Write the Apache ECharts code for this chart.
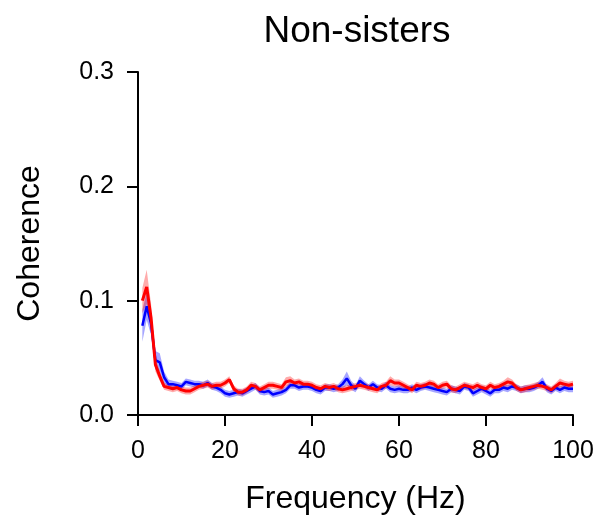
<!DOCTYPE html>
<html>
<head>
<meta charset="utf-8">
<script src="https://cdn.jsdelivr.net/npm/echarts@6/dist/echarts.min.js"></script>
<style>html,body{margin:0;padding:0;background:#fff;}#c{width:605px;height:525px;}</style>
</head>
<body>
<div id="c"></div>
<script>
// Frequency grid (Hz)
var freqs = [];
for (var i = 1; i <= 100; i++) freqs.push(i);

// Red series (mean coherence)
var redMean = [0.100,0.112,0.085,0.044,0.034,0.025,0.024,0.023,0.024,0.022,
  0.021,0.021,0.023,0.025,0.026,0.027,0.025,0.026,0.026,0.028,
  0.031,0.023,0.020,0.020,0.022,0.026,0.025,0.022,0.024,0.026,
  0.026,0.025,0.024,0.029,0.030,0.028,0.029,0.027,0.027,0.026,
  0.024,0.023,0.025,0.024,0.025,0.023,0.022,0.023,0.024,0.025,
  0.026,0.025,0.024,0.023,0.022,0.025,0.026,0.030,0.028,0.028,
  0.026,0.024,0.022,0.026,0.025,0.026,0.028,0.027,0.024,0.026,
  0.027,0.023,0.022,0.024,0.026,0.025,0.024,0.026,0.024,0.023,
  0.026,0.024,0.025,0.027,0.029,0.028,0.024,0.022,0.023,0.024,
  0.025,0.026,0.025,0.024,0.022,0.025,0.028,0.027,0.026,0.027];
var redErr = [0.011,0.015,0.012,0.006,0.004,0.003,0.003,0.003,0.003,0.003,
  0.003,0.003,0.003,0.003,0.003,0.003,0.003,0.003,0.003,0.003,
  0.003,0.003,0.003,0.003,0.003,0.003,0.003,0.003,0.003,0.003,
  0.003,0.003,0.003,0.004,0.004,0.003,0.003,0.003,0.003,0.003,
  0.003,0.003,0.003,0.003,0.003,0.003,0.003,0.003,0.003,0.003,
  0.003,0.003,0.003,0.003,0.003,0.003,0.003,0.004,0.003,0.003,
  0.003,0.003,0.003,0.003,0.003,0.003,0.003,0.003,0.003,0.003,
  0.003,0.003,0.003,0.003,0.003,0.003,0.003,0.003,0.003,0.003,
  0.003,0.003,0.003,0.003,0.004,0.003,0.003,0.003,0.003,0.003,
  0.003,0.003,0.003,0.003,0.003,0.003,0.004,0.003,0.003,0.003];

// Blue series (mean coherence)
var blueMean = [0.078,0.095,0.080,0.048,0.046,0.033,0.027,0.027,0.026,0.025,
  0.029,0.028,0.027,0.027,0.026,0.028,0.025,0.024,0.022,0.019,
  0.018,0.019,0.020,0.019,0.021,0.023,0.025,0.021,0.020,0.021,
  0.018,0.019,0.020,0.022,0.026,0.026,0.024,0.025,0.025,0.024,
  0.022,0.021,0.024,0.024,0.023,0.024,0.027,0.032,0.026,0.023,
  0.030,0.027,0.024,0.027,0.024,0.023,0.026,0.023,0.022,0.023,
  0.022,0.022,0.024,0.022,0.024,0.025,0.024,0.023,0.022,0.021,
  0.020,0.023,0.022,0.021,0.025,0.024,0.019,0.021,0.023,0.021,
  0.019,0.022,0.022,0.024,0.023,0.025,0.024,0.022,0.023,0.023,
  0.024,0.026,0.029,0.023,0.021,0.024,0.022,0.024,0.023,0.023];
var blueErr = [0.014,0.012,0.010,0.008,0.008,0.005,0.004,0.003,0.003,0.003,
  0.003,0.003,0.003,0.003,0.003,0.003,0.003,0.003,0.003,0.003,
  0.003,0.003,0.003,0.003,0.003,0.003,0.003,0.003,0.003,0.003,
  0.003,0.003,0.003,0.003,0.003,0.003,0.003,0.003,0.003,0.003,
  0.003,0.003,0.003,0.003,0.003,0.003,0.004,0.006,0.004,0.003,
  0.004,0.003,0.003,0.003,0.003,0.003,0.003,0.003,0.003,0.003,
  0.003,0.003,0.003,0.003,0.003,0.003,0.003,0.003,0.003,0.003,
  0.003,0.003,0.003,0.003,0.003,0.003,0.003,0.003,0.003,0.003,
  0.003,0.003,0.003,0.003,0.003,0.003,0.003,0.003,0.003,0.003,
  0.003,0.003,0.004,0.003,0.003,0.003,0.003,0.003,0.003,0.003];

var xTicks = [0, 20, 40, 60, 80, 100];
var yTicks = [0.0, 0.1, 0.2, 0.3];

function pairs(vals) { return freqs.map(function (f, i) { return [f, vals[i]]; }); }
function bandData(m, e) { return freqs.map(function (f, i) { return [f, m[i] - e[i], m[i] + e[i]]; }); }

var FONT = 'Liberation Sans, Arial, sans-serif';
var chart = echarts.init(document.getElementById('c'), null, { renderer: 'canvas' });

function band(name, data, color) {
  return {
    name: name, type: 'custom', data: data, silent: true, animation: false, z: 1,
    encode: { x: 0, y: [1, 2] },
    renderItem: function (params, api) {
      if (params.dataIndex !== 0) return null;
      var up = [], lo = [];
      for (var k = 0; k < data.length; k++) {
        up.push(api.coord([data[k][0], data[k][2]]));
        lo.unshift(api.coord([data[k][0], data[k][1]]));
      }
      return { type: 'polygon', shape: { points: up.concat(lo) }, style: { fill: color } };
    }
  };
}

chart.setOption({
  animation: false,
  title: {
    text: 'Non-sisters', left: 352, top: 8, textAlign: 'center',
    textStyle: { fontFamily: FONT, fontSize: 37, fontWeight: 'normal', color: '#000' }
  },
  grid: { left: 138, right: 32, top: 72, bottom: 110, containLabel: false },
  xAxis: {
    type: 'value', min: 0, max: 100, interval: 20,
    name: 'Frequency (Hz)', nameLocation: 'middle', nameGap: 68,
    nameTextStyle: { fontFamily: FONT, fontSize: 32, color: '#000' },
    axisLine: { lineStyle: { color: '#000', width: 2 } },
    axisTick: { show: true, length: 11, lineStyle: { color: '#000', width: 2 } },
    axisLabel: { fontFamily: FONT, fontSize: 25, color: '#000', margin: 24,
      formatter: function (v) { return xTicks.indexOf(v) >= 0 ? String(v) : ''; } },
    splitLine: { show: false }
  },
  yAxis: {
    type: 'value', min: 0, max: 0.3, interval: 0.1,
    name: 'Coherence', nameLocation: 'middle', nameGap: 92,
    nameTextStyle: { fontFamily: FONT, fontSize: 32, color: '#000' },
    axisLine: { show: true, lineStyle: { color: '#000', width: 2 } },
    axisTick: { show: true, length: 11, lineStyle: { color: '#000', width: 2 } },
    axisLabel: { fontFamily: FONT, fontSize: 25, color: '#000', margin: 24,
      formatter: function (v) {
        for (var k = 0; k < yTicks.length; k++) if (Math.abs(yTicks[k] - v) < 1e-9) return yTicks[k].toFixed(1);
        return '';
      } },
    splitLine: { show: false }
  },
  series: [
    band('blueBand', bandData(blueMean, blueErr), 'rgba(0,0,255,0.35)'),
    band('redBand', bandData(redMean, redErr), 'rgba(255,0,0,0.33)'),
    { name: 'Blue', type: 'line', data: pairs(blueMean), symbol: 'none', animation: false,
      lineStyle: { color: '#0000ff', width: 2.5 }, z: 3 },
    { name: 'Red', type: 'line', data: pairs(redMean), symbol: 'none', animation: false,
      lineStyle: { color: '#ff0000', width: 3 }, z: 4 }
  ]
});
</script>
</body>
</html>
